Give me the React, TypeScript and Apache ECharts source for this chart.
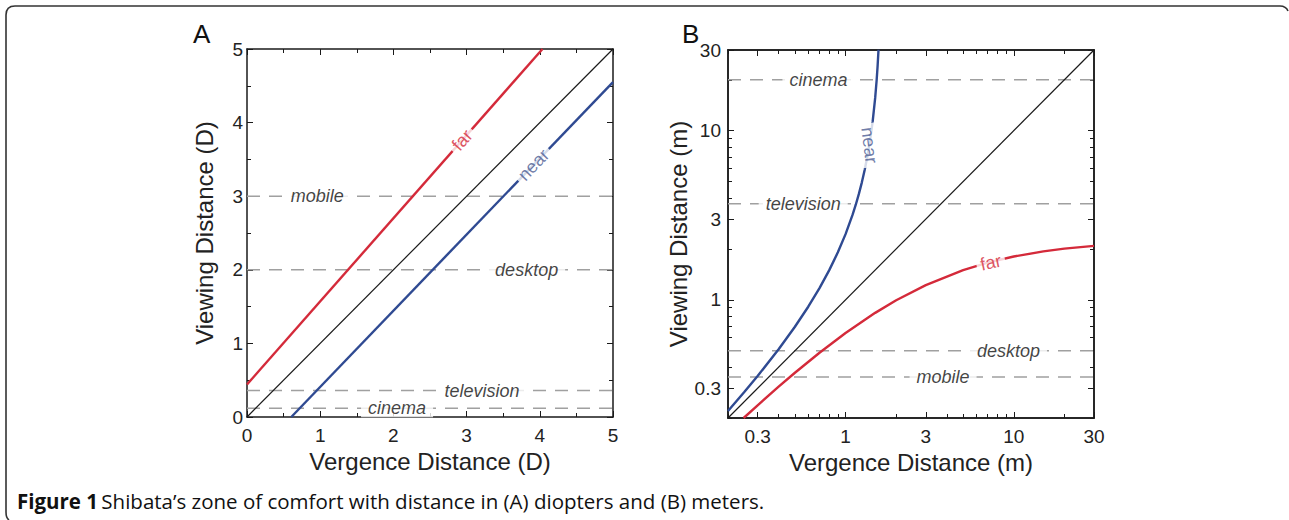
import React, { useEffect, useRef } from "react";
import * as echarts from "echarts";

// ---------- Panel A : diopters ----------
const dioptTicks = [0, 1, 2, 3, 4, 5];
const dioptIdentity: number[][] = [[0, 0], [5, 5]];
const dioptFar: number[][] = [[0, 0.442], [4.037, 5]];
const dioptNear: number[][] = [[0.605, 0], [5, 4.549]];
const dioptViewNames = ["mobile", "desktop", "television", "cinema"];
const dioptViewLevels = [3, 2, 0.36, 0.12];

// ---------- Panel B : meters ----------
const meterTickLabels = [0.3, 1, 3, 10, 30];
const meterMinorTicks = [0.2, 0.4, 0.5, 0.6, 0.7, 0.8, 0.9, 2, 4, 5, 6, 7, 8, 9, 20];
const meterIdentity: number[][] = [[0.2, 0.2], [30, 30]];
const meterFar: number[][] = [
  [0.2477, 0.2], [0.3, 0.2378], [0.4, 0.3063], [0.5, 0.3704], [0.7, 0.4866],
  [1, 0.6365], [1.5, 0.8371], [2, 0.9935], [3, 1.222], [5, 1.4975],
  [7, 1.6576], [10, 1.8021], [15, 1.9332], [20, 2.006], [30, 2.085],
];
const meterNear: number[][] = [
  [0.2, 0.2198], [0.25, 0.2846], [0.3, 0.3541], [0.4, 0.5098], [0.5, 0.6925],
  [0.6, 0.9099], [0.7, 1.1729], [0.8, 1.4976], [0.9, 1.9084], [1.0, 2.445],
  [1.1, 3.1756], [1.15, 3.65], [1.2, 4.228], [1.25, 4.95], [1.3, 5.877],
  [1.35, 7.109], [1.4, 8.827], [1.45, 11.39], [1.5, 15.625], [1.53, 19.81],
  [1.55, 23.96], [1.57, 30.08],
];
const meterViewNames = ["mobile", "desktop", "television", "cinema"];
const meterViewLevels = [0.35, 0.5, 3.7, 20];

// ---------- label placement (layout, not data) ----------
const dioptViewLabelX = [0.96, 3.82, 3.21, 2.05];
const meterViewLabelX = [3.8, 9.3, 0.56, 0.69];

const RED = "#d42a3a";
const BLUE = "#2f4a92";
const INK = "#1a1a1a";
const DASH = "#a0a0a0";
const FONT = "'Liberation Sans', Arial, sans-serif";

const L = (v: number) => Math.log10(v);
const fmtLog = (v: number) => String(Number(Math.pow(10, v).toPrecision(2)));

const frameD = "M 9 520 Q 6 518 6 512 L 6 15 Q 6 6 15 6 L 1280 6 Q 1286 6 1288 11";
echarts.graphic.registerShape("figframe", echarts.graphic.extendPath(frameD, {}) as any);

function boxAxes(gridIndex: number, common: any, dim: "x" | "y", labeled: any, name?: string, nameGap?: number) {
  const pos = dim === "x" ? ["bottom", "top"] : ["left", "right"];
  return pos.map((p, i) => ({
    ...common,
    gridIndex,
    position: p,
    name: i === 0 ? name : undefined,
    nameLocation: "middle",
    nameGap,
    nameTextStyle: { fontFamily: FONT, fontSize: 24, color: "#222" },
    axisLine: { show: true, onZero: false, lineStyle: { color: INK, width: 1.5 } },
    splitLine: { show: false },
    axisLabel: i === 0 ? labeled : { show: false },
  }));
}

export default function App() {
  const ref = useRef<HTMLDivElement>(null);
  useEffect(() => {
    if (!ref.current) return;
    const chart = echarts.init(ref.current, undefined, { renderer: "svg" });

    const gridA = { left: 247, top: 49, width: 366, height: 368 };
    const gridB = { left: 728, top: 50, width: 366, height: 368 };

    const linAxis = {
      type: "value",
      min: dioptTicks[0],
      max: dioptTicks[dioptTicks.length - 1],
      interval: 1,
      axisTick: { show: true, inside: true, length: 6, lineStyle: { color: INK, width: 1 } },
      minorTick: { show: true, splitNumber: 2, length: 4, lineStyle: { color: INK, width: 1 } },
    };
    const labelStyle = (margin: number, fmt?: any) => ({
      show: true,
      margin,
      fontFamily: FONT,
      fontSize: 19,
      color: "#222",
      formatter: fmt,
    });

    const majorLog = meterTickLabels.map(L);
    const minorLog = meterMinorTicks.map(L);
    const logAxis = {
      type: "value",
      min: L(0.2),
      max: L(30),
      axisTick: { show: true, inside: true, length: 6, customValues: majorLog, lineStyle: { color: INK, width: 1 } },
    };
    const logMinorAxis = {
      type: "value",
      min: L(0.2),
      max: L(30),
      axisTick: { show: true, inside: true, length: 4, customValues: minorLog, lineStyle: { color: INK, width: 1 } },
    };
    const logLabel = { ...labelStyle(9, fmtLog), customValues: majorLog };
    const logLabelY = { ...labelStyle(7, fmtLog), customValues: majorLog };

    const xAxis = [
      ...boxAxes(0, linAxis, "x", labelStyle(9), "Vergence Distance (D)", 32),
      ...boxAxes(1, logAxis, "x", logLabel, "Vergence Distance (m)", 32),
      ...boxAxes(2, logMinorAxis, "x", { show: false }),
    ];
    const yAxis = [
      ...boxAxes(0, linAxis, "y", labelStyle(4), "Viewing Distance (D)", 31),
      ...boxAxes(1, logAxis, "y", logLabelY, "Viewing Distance (m)", 35),
      ...boxAxes(2, logMinorAxis, "y", { show: false }),
    ];

    const dashed = (xi: number, yi: number, pts: number[][]) => ({
      type: "line",
      xAxisIndex: xi,
      yAxisIndex: yi,
      data: pts,
      showSymbol: false,
      silent: true,
      z: 1,
      lineStyle: { color: DASH, width: 1.5, type: [13, 9] },
    });
    const curve = (xi: number, yi: number, pts: number[][], color: string, width: number) => ({
      type: "line",
      xAxisIndex: xi,
      yAxisIndex: yi,
      data: pts,
      showSymbol: false,
      silent: true,
      z: 2,
      lineStyle: { color, width },
    });
    const textLabels = (xi: number, yi: number, items: any[]) => ({
      type: "scatter",
      xAxisIndex: xi,
      yAxisIndex: yi,
      symbolSize: 1,
      silent: true,
      z: 5,
      itemStyle: { color: "rgba(0,0,0,0)" },
      label: {
        show: true,
        position: "inside",
        formatter: "{b}",
        fontFamily: FONT,
        fontSize: 18,
        color: "#111",
        backgroundColor: "#fff",
        padding: [0, 7],
      },
      data: items,
    });

    const lgPts = (pts: number[][]) => pts.map(([x, y]) => [L(x), L(y)]);

    const series: any[] = [];
    dioptViewLevels.forEach((lv) => series.push(dashed(0, 0, [[0, lv], [5, lv]])));
    series.push(curve(0, 0, dioptIdentity, INK, 1.2));
    series.push(curve(0, 0, dioptFar, RED, 2.4));
    series.push(curve(0, 0, dioptNear, BLUE, 2.4));
    series.push(
      textLabels(0, 0, [
        ...dioptViewNames.map((n, i) => ({
          name: n,
          value: [dioptViewLabelX[i], dioptViewLevels[i]],
          label: { fontStyle: "italic", color: "#111" },
        })),
        { name: "far", value: [2.94, 3.76], label: { rotate: 48.5, color: RED, padding: [0, 4] } },
        { name: "near", value: [3.915, 3.426], label: { rotate: 46, color: "#4a5b92", padding: [0, 4] } },
      ])
    );

    meterViewLevels.forEach((lv) => series.push(dashed(2, 2, [[L(0.2), L(lv)], [L(30), L(lv)]])));
    series.push(curve(2, 2, lgPts(meterIdentity), INK, 1.2));
    series.push(curve(2, 2, lgPts(meterFar), RED, 2.4));
    series.push(curve(2, 2, lgPts(meterNear), BLUE, 2.4));
    series.push(
      textLabels(2, 2, [
        ...meterViewNames.map((n, i) => ({
          name: n,
          value: [L(meterViewLabelX[i]), L(meterViewLevels[i])],
          label: { fontStyle: "italic", color: "#111" },
        })),
        { name: "far", value: [L(7.3), L(1.66)], label: { rotate: 12, color: RED, padding: [0, 4] } },
        { name: "near", value: [L(1.387), L(8.2)], label: { rotate: -83, color: "#4a5b92", padding: [0, 4] } },
      ])
    );

    chart.setOption({
      animation: false,
      backgroundColor: "#fff",
      grid: [gridA, gridB, gridB],
      xAxis,
      yAxis,
      series,
      graphic: [
        { type: "figframe", x: 0, y: 0, silent: true, style: { fill: "none", stroke: "#333", lineWidth: 1.6 } },
        {
          type: "text",
          left: 193,
          top: 21,
          style: { text: "A", fontFamily: FONT, fontSize: 26, fill: "#111" },
        },
        {
          type: "text",
          left: 682,
          top: 21,
          style: { text: "B", fontFamily: FONT, fontSize: 26, fill: "#111" },
        },
        {
          type: "text",
          left: 17,
          top: 490,
          style: {
            text: "{b|Figure 1} {r|Shibata’s zone of comfort with distance in (A) diopters and (B) meters.}",
            rich: {
              b: { fontFamily: "'Open Sans', sans-serif", fontWeight: "bold", fontSize: 20.5, fill: "#111" },
              r: { fontFamily: "'Open Sans', sans-serif", fontWeight: "normal", fontSize: 20.5, fill: "#111" },
            },
          },
        },
      ],
    });
    return () => chart.dispose();
  }, []);
  return (
    <div
      ref={ref}
      style={{ position: "fixed", left: 0, top: 0, width: 1289, height: 520, background: "#fff" }}
    />
  );
}
